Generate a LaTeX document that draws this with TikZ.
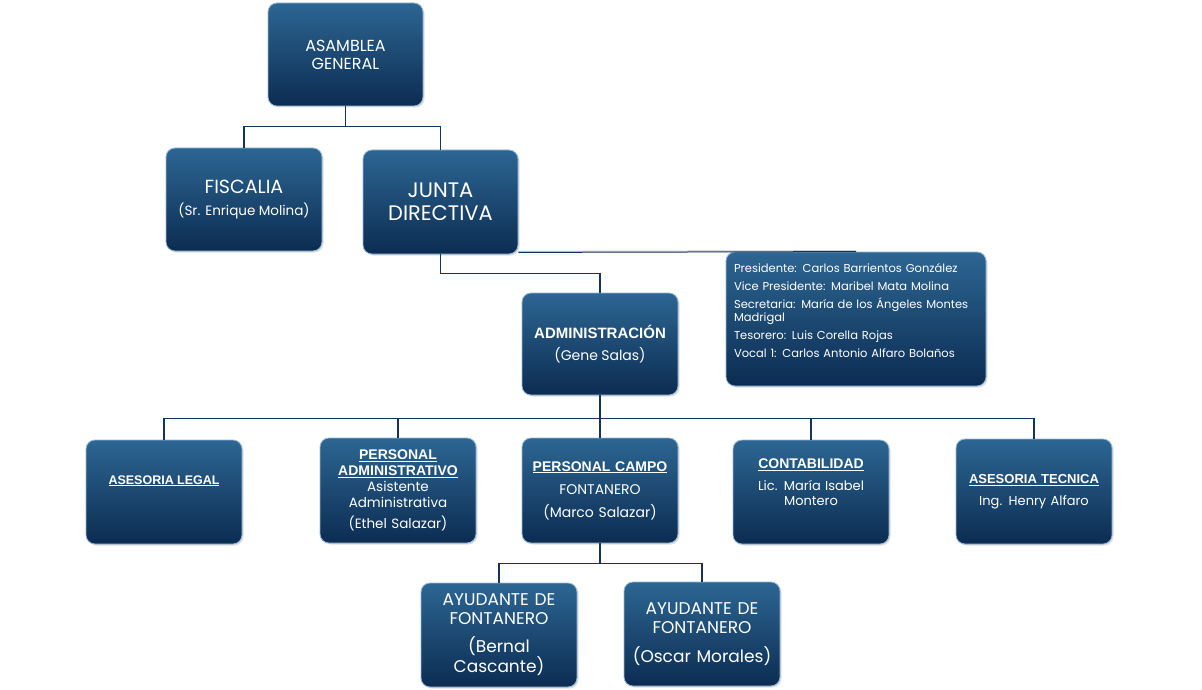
\documentclass[tikz,border=0pt]{standalone}
\usepackage{fontspec}
\setmainfont{Poppins}
\newfontfamily\titlefont{Liberation Sans}
\usetikzlibrary{shadows,calc}
\definecolor{boxtop}{RGB}{44,102,146}
\definecolor{boxbot}{RGB}{12,44,82}
\definecolor{boxedge}{RGB}{150,185,215}
\definecolor{linecol}{RGB}{22,52,90}
\tikzset{
  orgbox/.style={rounded corners=9pt, draw=boxedge, line width=0.8pt,
    top color=boxtop, bottom color=boxbot, text=white, align=center,
    minimum width=156pt, minimum height=104pt, inner xsep=2pt, inner ysep=4pt, text width=148pt,
    drop shadow={opacity=0.25, shadow xshift=1.5pt, shadow yshift=-1.5pt}},
  conn/.style={draw=linecol, line width=1.5pt},
}
\newcommand{\ttlu}[1]{\underline{#1}}
\newcommand{\ttlf}[1]{\titlefont\bfseries\fontsize{#1}{15}\selectfont}
\begin{document}
\begin{tikzpicture}[x=1pt,y=-1pt]
\useasboundingbox[fill=white] (0,0) rectangle (1202,690);

\node[orgbox, minimum width=155pt, minimum height=103pt, font=\fontsize{16}{18}\selectfont] (asam) at (345.5,54.5) {ASAMBLEA\\GENERAL};
\node[orgbox, minimum height=103pt] (fisc) at (244,199.5) {{\fontsize{19}{21}\selectfont FISCALIA}\\[9pt]{\fontsize{13.5}{14}\selectfont (Sr. Enrique Molina)}};
\node[orgbox, minimum width=155pt, font=\fontsize{21}{23}\selectfont] (junta) at (440.5,202) {JUNTA\\DIRECTIVA};
\node[orgbox, minimum width=260pt, minimum height=134pt, text width=244pt, align=left, font=\fontsize{11.5}{13}\selectfont] (jd) at (856,319) {Presidente: Carlos Barrientos González\\[5pt]
Vice Presidente: Maribel Mata Molina\\[5pt]
Secretaria: María de los Ángeles Montes Madrigal\\[5pt]
Tesorero: Luis Corella Rojas\\[5pt]
Vocal 1: Carlos Antonio Alfaro Bolaños\rule[-17pt]{0pt}{0pt}};
\node[orgbox, minimum height=102pt] (admin) at (600,344) {{\ttlf{15}ADMINISTRACIÓN}\\[8pt]{\fontsize{14}{16}\selectfont (Gene Salas)}};

\node[orgbox] (legal) at (164,492) {\raisebox{8pt}[0pt][0pt]{\ttlf{12.5}\ttlu{ASESORIA LEGAL}}};
\node[orgbox, minimum height=105pt, font=\fontsize{13.5}{16}\selectfont] (padm) at (398,490.5) {{\ttlf{14}\ttlu{PERSONAL}\\\ttlu{ADMINISTRATIVO}}\\Asistente\\Administrativa\\[5pt](Ethel Salazar)};
\node[orgbox, minimum height=105pt, font=\fontsize{14}{16}\selectfont] (pcampo) at (600,490.5) {{\ttlf{14}\ttlu{PERSONAL CAMPO}}\\[7pt]FONTANERO\\[7pt](Marco Salazar)};
\node[orgbox, font=\fontsize{13}{15}\selectfont] (cont) at (811,492) {{\ttlf{14}\ttlu{CONTABILIDAD}}\\[7pt]Lic. María Isabel\\Montero\rule[-19pt]{0pt}{0pt}};
\node[orgbox, minimum height=105pt, font=\fontsize{13}{16}\selectfont] (atec) at (1034,491.5) {{\ttlf{13}\ttlu{ASESORIA TECNICA}}\\[6pt]Ing. Henry Alfaro};

\node[orgbox, font=\fontsize{17}{19}\selectfont] (ayu1) at (499,635) {AYUDANTE DE\\FONTANERO\\[9pt](Bernal\\Cascante)};
\node[orgbox, font=\fontsize{17}{19}\selectfont] (ayu2) at (702,634) {AYUDANTE DE\\FONTANERO\\[10pt](Oscar Morales)};

\draw[conn] (asam.south) -- ++(0,20) coordinate (b1);
\draw[conn] (b1) -| (fisc.north);
\draw[conn] (b1) -| (junta.north);
\draw[conn] (junta.south) -- ++(0,19) -| (admin.north);
\draw[draw=black!20, line width=1pt] ([yshift=3pt]junta.south east) -- ([yshift=1pt]jd.north);
\draw[conn, line width=1pt] ([yshift=2pt]junta.south east) -- (jd.north);
\draw[conn] (admin.south) -- ++(0,23) coordinate (b3);
\foreach \n in {legal,padm,pcampo,cont,atec} \draw[conn] (b3) -| (\n.north);
\draw[conn] (pcampo.south) -- ++(0,20) coordinate (b4);
\draw[conn] (b4) -| (ayu1.north);
\draw[conn] (b4) -| (ayu2.north);
\end{tikzpicture}
\end{document}
